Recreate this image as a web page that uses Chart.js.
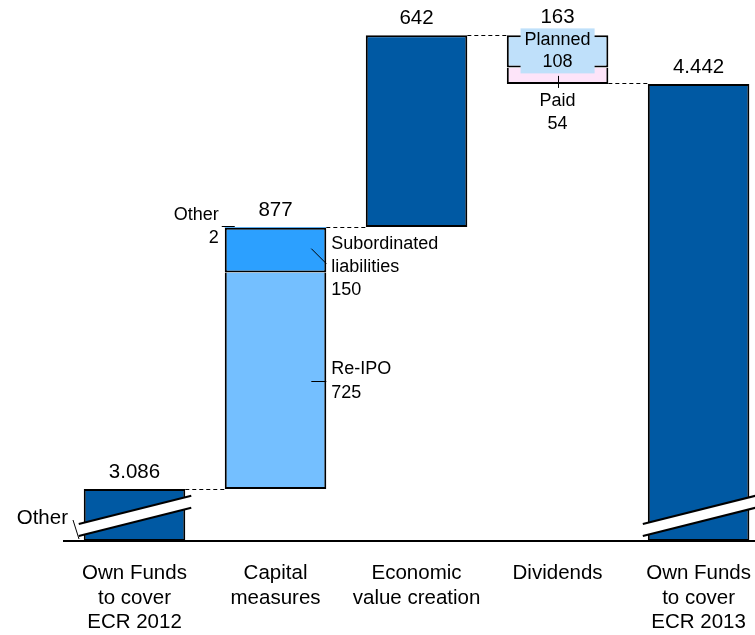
<!DOCTYPE html>
<html>
<head>
<meta charset="utf-8">
<title>Own Funds bridge</title>
<script src="https://cdn.jsdelivr.net/npm/chart.js@4.4.1/dist/chart.umd.min.js"></script>
<style>
  html, body { margin: 0; padding: 0; background: #fff; overflow: hidden; }
  #box { width: 755px; height: 635px; }
</style>
</head>
<body>
<div id="box"><canvas id="myChart" width="755" height="635"></canvas></div>
<script>
var categories = [
	['Own Funds', 'to cover', 'ECR 2012'],
	['Capital', 'measures'],
	['Economic', 'value creation'],
	['Dividends'],
	['Own Funds', 'to cover', 'ECR 2013']
];
// broken axis: the two totals start here instead of at zero
var axisFloor = 2912;
var axisTop = 4723;

var ownFunds2012 = 3086;
var capitalMeasures = 877;
var reIpo = 725;
var subordinated = 150;
var otherMeasures = 2;
var economicValue = 642;
var dividends = 163;
var dividendsPlanned = 108;
var dividendsPaid = 54;
var ownFunds2013 = 4442;

var FONT = "'Liberation Sans', Arial, sans-serif";
var DARK = '#0059a3';

// running levels of the bridge
var afterCapital = ownFunds2012 + capitalMeasures;
var afterEconomic = afterCapital + economicValue;
var afterDividends = afterEconomic - dividends;

function fmt(v) {
	return String(v).replace(/\B(?=(\d{3})+(?!\d))/g, '.');
}

// stacked pieces drop the border on one side so neighbours share a single line
function barDs(label, color, data, bw) {
	return {
		label: label,
		data: data,
		backgroundColor: color,
		borderColor: '#000',
		borderWidth: bw === undefined ? 2 : bw,
		borderSkipped: false,
		grouped: false
	};
}

var datasets = [
	barDs('Own Funds', DARK, [
		{x: 0, y: [axisFloor, ownFunds2012]},
		{x: 4, y: [axisFloor, ownFunds2013]}
	]),
	barDs('Re-IPO', '#74bfff', [{x: 1, y: [ownFunds2012, ownFunds2012 + reIpo]}],
		{top: 0, bottom: 2, left: 2, right: 2}),
	barDs('Subordinated liabilities', '#2ca0ff', [{x: 1, y: [ownFunds2012 + reIpo, ownFunds2012 + reIpo + subordinated]}],
		{top: 2, bottom: 2, left: 2, right: 2}),
	barDs('Other', '#2ca0ff', [{x: 1, y: [afterCapital - otherMeasures, afterCapital]}], 0),
	barDs('Economic value creation', DARK, [{x: 2, y: [afterCapital, afterEconomic]}]),
	barDs('Paid', '#fde4f9', [{x: 3, y: [afterDividends, afterDividends + dividendsPaid]}],
		{top: 0, bottom: 2, left: 2, right: 2}),
	barDs('Planned', '#bfe0fa', [{x: 3, y: [afterEconomic - dividendsPlanned, afterEconomic]}],
		{top: 2, bottom: 2, left: 2, right: 2})
];

function text(ctx, str, x, y, size, align) {
	ctx.font = size + 'px ' + FONT;
	ctx.fillStyle = '#000';
	ctx.textAlign = align || 'center';
	ctx.textBaseline = 'middle';
	ctx.fillText(str, x, y);
}

function line(ctx, x1, y1, x2, y2, w) {
	ctx.beginPath();
	ctx.lineWidth = w || 1;
	ctx.moveTo(x1, y1);
	ctx.lineTo(x2, y2);
	ctx.stroke();
}

// crisp 1px horizontal line
function hline(ctx, x1, x2, y) {
	var yy = Math.round(y) + 0.5;
	line(ctx, x1, yy, x2, yy, 1);
}

var bridgeDecor = {
	id: 'bridgeDecor',
	afterDatasetsDraw: function(chart) {
		var ctx = chart.ctx;
		var el = function(ds, i) { return chart.getDatasetMeta(ds).data[i || 0]; };
		var L = function(b) { return b.x - b.width / 2; };
		var R = function(b) { return b.x + b.width / 2; };
		var axisY = chart.chartArea.bottom;

		var start = el(0, 0), end = el(0, 1);
		var ipo = el(1), sub = el(2), oth = el(3), eco = el(4), paid = el(5), plan = el(6);

		ctx.save();
		ctx.strokeStyle = '#000';

		// dashed connectors between the steps
		ctx.setLineDash([4, 3]);
		hline(ctx, R(start), L(ipo), start.y);
		hline(ctx, R(oth), L(eco), oth.y);
		hline(ctx, R(eco), L(plan), eco.y);
		hline(ctx, R(paid), L(end), paid.base - 1);
		ctx.setLineDash([]);

		// axis break marks on the two totals
		[start, end].forEach(function(b) {
			var x1 = L(b) - 5, x2 = R(b) + 6;
			var yc1 = axisY - 25 + (b.x - x1) * 0.25;
			var yc2 = axisY - 25 - (x2 - b.x) * 0.25;
			ctx.fillStyle = '#fff';
			ctx.beginPath();
			ctx.moveTo(x1, yc1 - 6);
			ctx.lineTo(x2, yc2 - 6);
			ctx.lineTo(x2, yc2 + 6);
			ctx.lineTo(x1, yc1 + 6);
			ctx.closePath();
			ctx.fill();
			line(ctx, x1, yc1 - 6, x2, yc2 - 6, 2);
			line(ctx, x1, yc1 + 6, x2, yc2 + 6, 2);
		});

		// value labels above the columns
		var big = 20.5, small = 18;
		text(ctx, fmt(ownFunds2012), start.x, start.y - 17, big);
		text(ctx, fmt(capitalMeasures), ipo.x, oth.y - 17, big);
		text(ctx, fmt(economicValue), eco.x, eco.y - 17, big);
		text(ctx, fmt(dividends), plan.x, plan.y - 18, big);
		text(ctx, fmt(ownFunds2013), end.x, end.y - 17, big);

		// "Other" at the foot of the first column
		text(ctx, 'Other', 68, axisY - 23, big, 'right');
		line(ctx, 73, axisY - 21, 79, axisY - 2);

		// capital measures breakdown
		text(ctx, 'Other', L(oth) - 6, oth.y - 12, small, 'right');
		text(ctx, fmt(otherMeasures), L(oth) - 6, oth.y + 11, small, 'right');
		hline(ctx, L(oth) - 3, L(oth) + 10, oth.y - 1);

		var tx = R(sub) + 5;
		text(ctx, 'Subordinated', tx, sub.y + 16, small, 'left');
		text(ctx, 'liabilities', tx, sub.y + 39, small, 'left');
		text(ctx, fmt(subordinated), tx, sub.y + 62, small, 'left');
		line(ctx, R(sub) - 15, sub.y + 21, R(sub), sub.y + 36);

		var ipoMid = (ipo.y + ipo.base) / 2;
		text(ctx, 'Re-IPO', tx, ipoMid - 12, small, 'left');
		text(ctx, fmt(reIpo), tx, ipoMid + 12, small, 'left');
		hline(ctx, R(ipo) - 15, R(ipo), ipoMid);

		// dividends breakdown
		var planMid = (plan.y + plan.base) / 2;
		ctx.font = small + 'px ' + FONT;
		var bw = ctx.measureText('Planned').width + 8;
		ctx.fillStyle = '#bfe0fa';
		ctx.fillRect(plan.x - bw / 2, planMid - 23, bw, 45);
		text(ctx, 'Planned', plan.x, planMid - 11, small);
		text(ctx, fmt(dividendsPlanned), plan.x, planMid + 11, small);

		var paidMid = (paid.y + paid.base) / 2;
		var px = Math.round(paid.x) + 0.5;
		line(ctx, px, paidMid, px, paid.base + 4);
		text(ctx, 'Paid', paid.x, paid.base + 17, small);
		text(ctx, fmt(dividendsPaid), paid.x, paid.base + 40, small);

		ctx.restore();
	}
};

var ctx = document.getElementById('myChart');
var myChart = new Chart(ctx, {
	type: 'bar',
	data: { datasets: datasets },
	plugins: [bridgeDecor],
	options: {
		responsive: false,
		animation: false,
		events: [],
		layout: { padding: { left: 64, right: 0, top: 0, bottom: 0 } },
		plugins: {
			legend: { display: false },
			tooltip: { enabled: false }
		},
		scales: {
			x: {
				type: 'linear',
				min: -0.5,
				max: 4.4,
				offset: false,
				afterBuildTicks: function(axis) {
					axis.ticks = categories.map(function(c, i) { return {value: i}; });
				},
				// fixed band for the three-line category names, no side padding
				afterFit: function(axis) {
					axis.height = 94;
					axis.paddingLeft = 0;
					axis.paddingRight = 0;
				},
				ticks: {
					callback: function(v) { return categories[v]; },
					autoSkip: false,
					maxRotation: 0,
					minRotation: 0,
					padding: 20,
					color: '#000',
					font: { family: FONT, size: 20.5 }
				},
				grid: { display: false, drawTicks: false, offset: false },
				border: { display: true, color: '#000', width: 2 }
			},
			y: {
				display: false,
				beginAtZero: false,
				min: axisFloor,
				max: axisTop
			}
		}
	}
});
</script>
</body>
</html>
